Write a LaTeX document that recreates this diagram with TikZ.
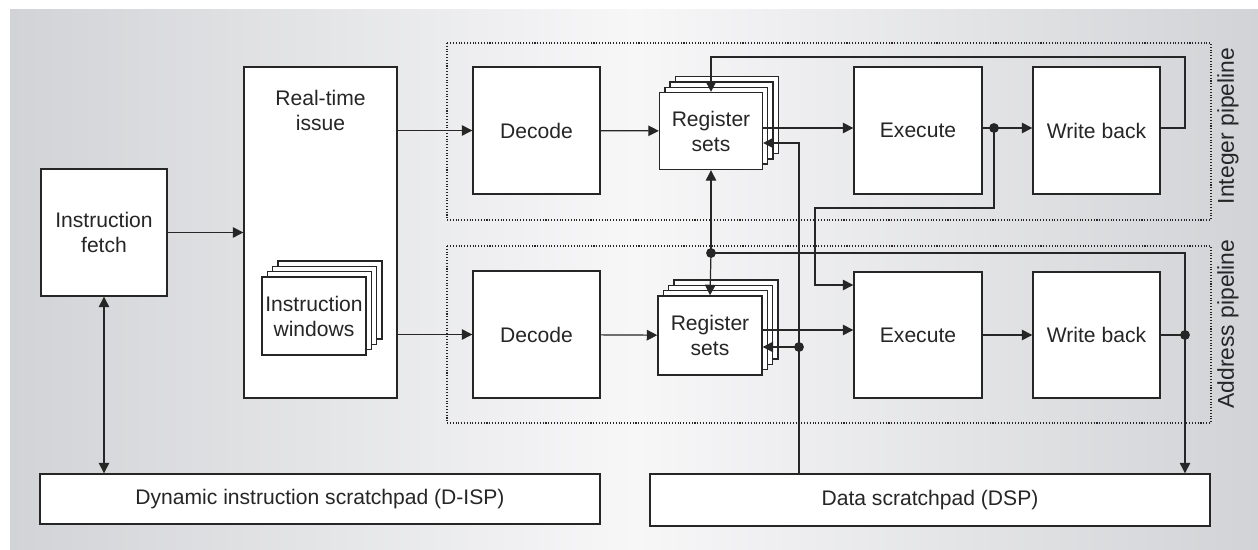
\documentclass[tikz,border=0pt]{standalone}
\usepackage{fontspec}
\setmainfont{Liberation Sans}
\usetikzlibrary{arrows.meta, shadows}

\definecolor{bgedge}{RGB}{210,211,214}
\definecolor{bgmid}{RGB}{247,247,248}
\definecolor{ink}{RGB}{38,38,38}

\begin{document}
\begin{tikzpicture}[x=0.02cm, y=-0.02cm, >={Triangle[length=6pt,width=6pt]},
  every node/.style={font=\fontsize{12}{14.2}\selectfont, text=ink, align=center},
  block/.style={draw=ink, fill=white, line width=0.8pt, inner sep=0pt},
  stack/.style={block,
    copy shadow={shadow xshift=0.32cm, shadow yshift=0.32cm},
    copy shadow={shadow xshift=0.213cm, shadow yshift=0.213cm},
    copy shadow={shadow xshift=0.106cm, shadow yshift=0.106cm}},
  wire/.style={draw=ink, line width=0.7pt},
  pipe/.style={draw=ink, line width=0.6pt, densely dotted},
  dot/.style={fill=ink}]
\useasboundingbox (0,0) rectangle (1258,550);
\shade[left color=bgedge, right color=bgedge, middle color=bgmid] (10,10) rectangle (1258,550);

%pipelines
\draw[pipe] (447,43) rectangle (1211,220);
\draw[pipe] (447,246) rectangle (1211,423);
\node[rotate=90, font=\fontsize{13}{15}\selectfont] (intlbl) at (1228,126) {Integer pipeline};
\node[rotate=90, font=\fontsize{13}{15}\selectfont] (addrlbl) at (1228,324) {Address pipeline};

%nodes
\node[block, minimum width=2.52cm, minimum height=2.54cm] (fetch) at (104,232.5) {Instruction\\fetch};
\node[block, minimum width=3.06cm, minimum height=6.62cm] (issue) at (320.5,232.5) {};
\node (issuetxt) at (320.5,110) {Real-time\\issue};
\node[stack, minimum width=2.08cm, minimum height=1.56cm] (win) at (314,316) {Instruction\\windows};
\node[block, minimum width=2.54cm, minimum height=2.54cm] (decI) at (536.5,130.5) {Decode};
\node[block, minimum width=2.54cm, minimum height=2.54cm] (decA) at (536.5,334.5) {Decode};
\node[stack, minimum width=2.06cm, minimum height=1.54cm] (regI) at (711,131) {Register\\sets};
\node[stack, minimum width=2.08cm, minimum height=1.58cm] (regA) at (710,335.5) {Register\\sets};
\node[block, minimum width=2.56cm, minimum height=2.54cm] (exeI) at (918,130.5) {Execute};
\node[block, minimum width=2.56cm, minimum height=2.52cm] (exeA) at (918,335) {Execute};
\node[block, minimum width=2.54cm, minimum height=2.54cm] (wbI) at (1096.5,130.5) {Write back};
\node[block, minimum width=2.54cm, minimum height=2.52cm] (wbA) at (1096.5,335) {Write back};
\node[block, minimum width=11.2cm, minimum height=1cm] (disp) at (320,499) {Dynamic instruction scratchpad (D-ISP)};
\node[block, minimum width=11.2cm, minimum height=1.04cm] (dsp) at (930,500) {Data scratchpad (DSP)};

%junctions
\coordinate (jI) at (994,128);
\coordinate (jA) at (711,253);
\coordinate (jR) at (1185,335);
\coordinate (jD) at (799,347);

%connections
\draw[wire,->] (fetch) -- (issue);
\draw[wire,<->] (fetch) -- (fetch |- disp.north);
\draw[wire,->] (issue.east |- decI) -- (decI);
\draw[wire,->] (issue.east |- decA) -- (decA);
\draw[wire,->] (decI) -- (regI);
\draw[wire,->] (decA) -- (regA);
\draw[wire,->] (regI.east |- jI) -- (exeI.west |- jI);
\draw[wire,->] (regA.east |- 0,330) -- (exeA.west |- 0,330);
\draw[wire] (exeI.east |- jI) -- (jI);
\draw[wire,->] (jI) -- (wbI.west |- jI);
\draw[wire,->] (exeA) -- (wbA);
\draw[wire,->] (jI) |- (815,208) |- (exeA.west |- 0,285);
\draw[wire,->] (wbI.east |- jI) -| (1185,57) -| (regI.north);
\draw[wire,->] (jA) -- (regI.south);
\draw[wire,->] (jA) -- (regA.north);
\draw[wire,->] (jA) -| (jR |- dsp.north);
\draw[wire] (wbA.east |- jR) -- (jR);
\draw[wire,->] (dsp.north -| jD) |- (regI.east |- 0,143);
\draw[wire,->] (jD) -- (regA.east |- jD);
\fill[dot] (jI) circle[radius=2.8pt];
\fill[dot] (jA) circle[radius=2.8pt];
\fill[dot] (jR) circle[radius=2.8pt];
\fill[dot] (jD) circle[radius=2.8pt];
\end{tikzpicture}
\end{document}
